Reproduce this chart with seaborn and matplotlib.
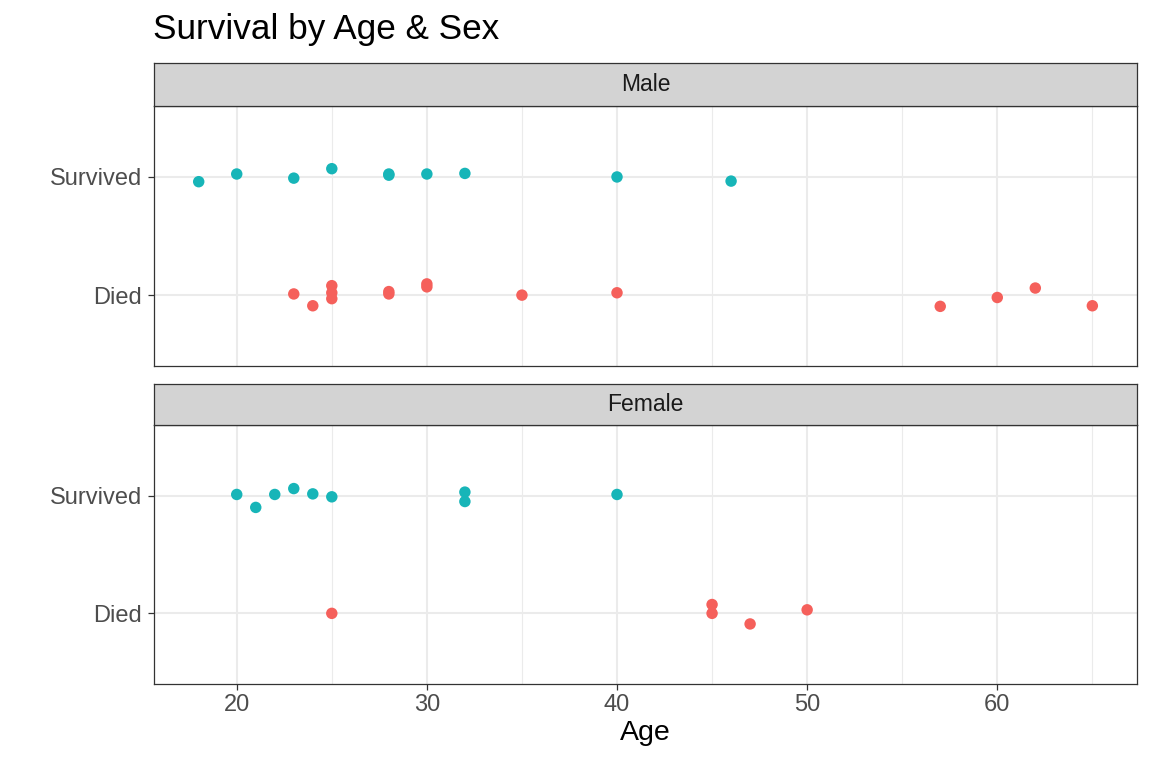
import pandas as pd
import numpy as np
import matplotlib.pyplot as plt
import seaborn as sns

# Ages and vertical jitter (Died = 1, Survived = 2)
male_surv_age = [18, 20, 23, 25, 28, 28, 30, 32, 40, 46]
male_surv_jit = [-0.04, 0.025, -0.01, 0.07, 0.025, 0.015, 0.025, 0.03, 0.0, -0.035]
male_died_age = [23, 24, 25, 25, 25, 28, 28, 30, 30, 35, 40, 57, 60, 62, 65]
male_died_jit = [0.01, -0.09, 0.08, 0.02, -0.03, 0.03, 0.01, 0.095, 0.07, 0.0, 0.02, -0.095, -0.02, 0.06, -0.09]
female_surv_age = [20, 21, 22, 23, 24, 25, 32, 32, 40]
female_surv_jit = [0.01, -0.1, 0.01, 0.06, 0.015, -0.01, 0.03, -0.05, 0.01]
female_died_age = [25, 45, 45, 47, 50]
female_died_jit = [0.0, 0.075, 0.0, -0.09, 0.03]

outcomes = ['Died', 'Survived']
sexes = ['Male', 'Female']
x_ticks = [20, 30, 40, 50, 60]

# Build the long table
parts = []
for sex, outcome, ages, jit in [
    ('Male', 'Survived', male_surv_age, male_surv_jit),
    ('Male', 'Died', male_died_age, male_died_jit),
    ('Female', 'Survived', female_surv_age, female_surv_jit),
    ('Female', 'Died', female_died_age, female_died_jit),
]:
    parts.append(pd.DataFrame({'Sex': sex, 'Outcome': outcome, 'Age': ages, 'jitter': jit}))
data = pd.concat(parts, ignore_index=True)
data['y'] = data['Outcome'].map({'Died': 1, 'Survived': 2}) + data['jitter']

palette = {'Died': '#F5605B', 'Survived': '#17B5B8'}

sns.set_theme(style='white')
plt.rcParams['font.family'] = ['Liberation Sans', 'DejaVu Sans']

fig = plt.figure(figsize=(11.52, 7.68), dpi=100)

# panel / strip positions (figure fractions)
panel_pos = {'Male': [0.1337, 0.5234, 0.8533, 0.3385], 'Female': [0.1337, 0.1094, 0.8533, 0.3372]}
strip_pos = {'Male': [0.1337, 0.8620, 0.8533, 0.0560], 'Female': [0.1337, 0.4466, 0.8533, 0.0534]}

border = '#333333'
for sex in sexes:
    ax = fig.add_axes(panel_pos[sex])
    sub = data[data['Sex'] == sex]
    sns.scatterplot(data=sub, x='Age', y='y', hue='Outcome', palette=palette,
                    s=68, linewidth=0, legend=False, ax=ax, zorder=3)
    ax.set_xlim(15.65, 67.35)
    ax.set_ylim(0.4, 2.6)
    ax.set_xticks(x_ticks)
    ax.set_xticks([25, 35, 45, 55, 65], minor=True)
    ax.set_yticks([1, 2])
    ax.set_yticklabels(outcomes)
    ax.grid(which='major', color='#EBEBEB', linewidth=1.5, zorder=0)
    ax.grid(which='minor', axis='x', color='#EBEBEB', linewidth=0.8, zorder=0)
    ax.set_axisbelow(True)
    for sp in ax.spines.values():
        sp.set_color(border)
        sp.set_linewidth(0.9)
    ax.tick_params(axis='y', which='major', length=4, width=0.9, color=border,
                   labelsize=17, labelcolor='#4D4D4D', pad=4.5, left=True)
    ax.tick_params(axis='x', which='minor', length=0)
    ax.set_ylabel('')
    if sex == 'Female':
        ax.tick_params(axis='x', which='major', length=4, width=0.9, color=border,
                       labelsize=17, labelcolor='#4D4D4D', pad=3, bottom=True)
        ax.set_xlabel('Age', fontsize=20.5, color='black', labelpad=3)
    else:
        ax.tick_params(axis='x', which='major', length=0, labelbottom=False)
        ax.set_xlabel('')

    st = fig.add_axes(strip_pos[sex])
    st.set_facecolor('#D3D3D3')
    st.set_xticks([])
    st.set_yticks([])
    for sp in st.spines.values():
        sp.set_color(border)
        sp.set_linewidth(0.9)
    st.text(0.5, 0.5, sex, ha='center', va='center', fontsize=16.5, color='#1A1A1A',
            transform=st.transAxes)

fig.text(0.1328, 0.961, 'Survival by Age & Sex', fontsize=25.3, color='black',
         ha='left', va='center')

fig.savefig('out.png', dpi=100)
